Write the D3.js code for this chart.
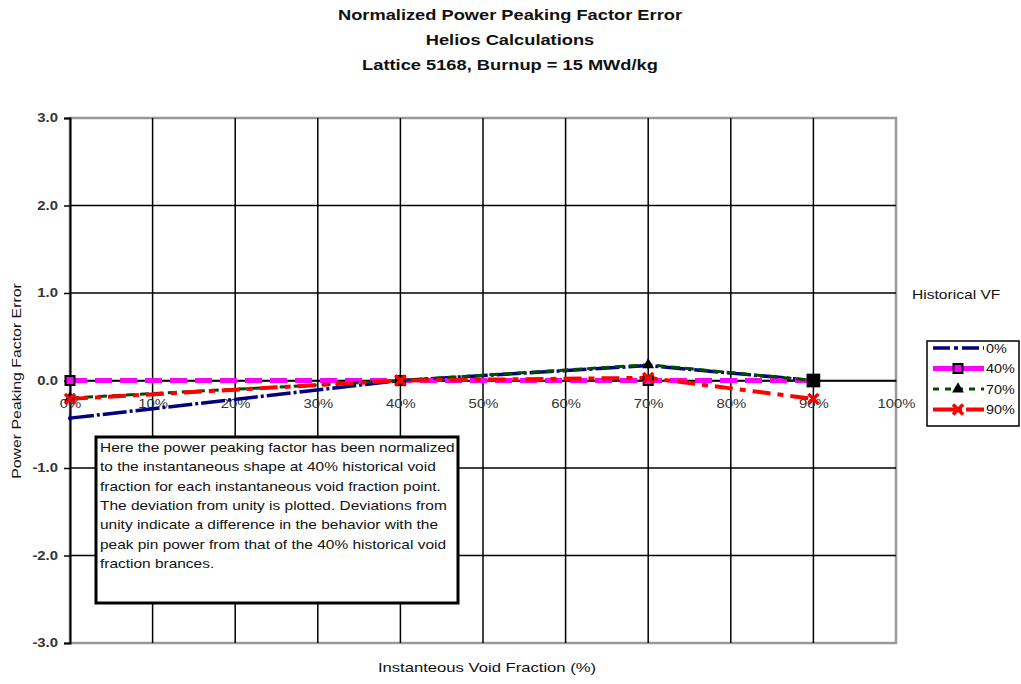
<!DOCTYPE html>
<html><head><meta charset="utf-8">
<script src="https://cdn.jsdelivr.net/npm/d3@7"></script>
<style>body{margin:0;background:#fff;}svg{display:block;font-family:"Liberation Sans",Arial,sans-serif;}</style>
</head><body>
<svg id="c" width="1021" height="684"></svg>
<script>
// ---- data ----
const xValues = [0, 40, 70, 90];              // instantaneous void fraction (%)
const seriesNames = ["0%", "40%", "70%", "90%"]; // historical VF
const vf0 = [-0.43, 0.0, 0.17, 0.0];
const vf40 = [0.0, 0.0, 0.0, 0.0];
const vf70 = [-0.2, 0.0, 0.18, 0.0];
const vf90 = [-0.21, 0.0, 0.03, -0.21];
const xTicks = [0,10,20,30,40,50,60,70,80,90,100];
const yTicks = [-3,-2,-1,0,1,2,3];
const titleLines = ["Normalized Power Peaking Factor Error","Helios Calculations","Lattice 5168, Burnup = 15 MWd/kg"];
const noteLines = ["Here the power peaking factor has been normalized",
 "to the instantaneous shape at 40% historical void",
 "fraction for each instantaneous void fraction point.",
 "The deviation from unity is plotted. Deviations from",
 "unity indicate a difference in the behavior with the",
 "peak pin power from that of the 40% historical void",
 "fraction brances."];

const svg = d3.select("#c");
const x = d3.scaleLinear().domain([0,100]).range([70,896]);
const y = d3.scaleLinear().domain([-3,3]).range([643,118]);
const SX = 1.24; // horizontal stretch of the reference's glyphs

function stext(g, tx, ty, str, o){
  o = o||{};
  const sx = o.sx||SX;
  const rot = o.rotate ? ` rotate(${o.rotate})` : "";
  return g.append("text").attr("transform",`translate(${tx},${ty})${rot} scale(${sx},1)`)
    .attr("text-anchor",o.anchor||"start").attr("font-size",o.size||12)
    .attr("font-weight",o.weight||"normal").attr("fill",o.fill||"#111").text(str);
}

// title
titleLines.forEach((t,i)=>stext(svg, 510, 20+i*25, t, {anchor:"middle", size:14.5, weight:"bold", sx:1.26}));

// plot border (gray)
svg.append("rect").attr("x",x(0)).attr("y",y(3)).attr("width",x(100)-x(0)).attr("height",y(-3)-y(3))
  .attr("fill","none").attr("stroke","#999").attr("stroke-width",2.5);

// grid
svg.append("g").selectAll("line").data(xTicks.filter(d=>d>0&&d<100)).join("line")
  .attr("x1",d=>x(d)).attr("x2",d=>x(d)).attr("y1",y(3)).attr("y2",y(-3))
  .attr("stroke","#000").attr("stroke-width",1.5);
svg.append("g").selectAll("line").data(yTicks.filter(d=>d>-3&&d<3)).join("line")
  .attr("x1",x(0)).attr("x2",x(100)).attr("y1",d=>y(d)).attr("y2",d=>y(d))
  .attr("stroke","#000").attr("stroke-width",1.5);

// y axis
const yAxis = d3.axisLeft(y).tickValues(yTicks).tickSize(6).tickFormat(d=>d.toFixed(1));
const gy = svg.append("g").attr("transform",`translate(${x(0)},0)`).call(yAxis);
gy.select(".domain").attr("stroke","#000").attr("stroke-width",2);
gy.selectAll(".tick line").attr("stroke","#000").attr("stroke-width",1.5);
gy.selectAll(".tick text").attr("font-size",12).attr("font-family","Liberation Sans, Arial, sans-serif")
  .attr("font-weight","bold").attr("fill","#333").attr("x",-12/SX).attr("transform",`scale(${SX},1)`);

// x axis at zero
const xAxis = d3.axisBottom(x).tickValues(xTicks).tickSize(0).tickFormat(d=>d+"%");
const gx = svg.append("g").attr("transform",`translate(0,${y(0)})`).call(xAxis);
gx.select(".domain").attr("stroke","#000").attr("stroke-width",1.5);
gx.selectAll(".tick text").attr("font-size",12).attr("font-family","Liberation Sans, Arial, sans-serif")
  .attr("fill","#333").attr("dy","2.05em").attr("transform",`scale(${SX},1)`);

// axis titles
stext(svg, 21, 381, "Power Peaking Factor Error", {anchor:"middle", size:13, rotate:-90, sx:1.22});
stext(svg, 487, 672, "Instanteous Void Fraction (%)", {anchor:"middle", size:13, sx:1.28});

// series
const series = [
  {name:seriesNames[0], vals:vf0, color:"#000080", width:3.5, dash:"24,3,3,3", marker:"diamond"},
  {name:seriesNames[1], vals:vf40, color:"#ff00ff", width:5, dash:"17,8", marker:"square"},
  {name:seriesNames[2], vals:vf70, color:"#004d00", width:3, dash:"9,5", marker:"triangle"},
  {name:seriesNames[3], vals:vf90, color:"#ff0000", width:4, dash:"18,7,6,7", marker:"x"}
];
const line = d3.line().x(d=>x(d[0])).y(d=>y(d[1]));

function drawMarker(g, type, cx, cy, color, scale, fillOverride){
  const s = scale||1;
  if(type==="diamond"){
    g.append("path").attr("d",d3.symbol(d3.symbolDiamond, 18*s)())
      .attr("transform",`translate(${cx},${cy})`).attr("fill",color);
  } else if(type==="square"){
    g.append("rect").attr("x",cx-4.5*s).attr("y",cy-4.5*s).attr("width",9*s).attr("height",9*s)
      .attr("fill",fillOverride||color).attr("stroke","#000").attr("stroke-width",2);
  } else if(type==="triangle"){
    g.append("path").attr("d",d3.symbol(d3.symbolTriangle, 60*s)())
      .attr("transform",`translate(${cx},${cy})`).attr("fill","#000");
  } else if(type==="x"){
    const r=5*s;
    g.append("path").attr("d",`M${cx-r},${cy-r}L${cx+r},${cy+r}M${cx-r},${cy+r}L${cx+r},${cy-r}`)
      .attr("stroke",color).attr("stroke-width",3.5).attr("fill","none");
  }
}

const gs = svg.append("g");
series.forEach(s=>{
  const pts = xValues.map((v,i)=>[v,s.vals[i]]);
  gs.append("path").attr("d",line(pts)).attr("fill","none").attr("stroke",s.color)
    .attr("stroke-width",s.width).attr("stroke-dasharray",s.dash);
});
series.forEach(s=>{
  xValues.forEach((v,i)=>{
    const last = s.marker==="square" && i===xValues.length-1;
    drawMarker(gs, s.marker, x(v), y(s.vals[i]), s.color, last?1.3:1, last?"#000":null);
  });
});

// legend
stext(svg, 912, 299, "Historical VF", {size:12, sx:1.3});
const lg = svg.append("g");
lg.append("rect").attr("x",927).attr("y",341).attr("width",92).attr("height",85)
  .attr("fill","#fff").attr("stroke","#000").attr("stroke-width",1.5);
const legendDash = ["17,4,4,4", null, "6,6", "22,4,3,4"];
series.forEach((s,i)=>{
  const ly = 348 + i*20.5;
  lg.append("line").attr("x1",933).attr("x2",984).attr("y1",ly).attr("y2",ly)
    .attr("stroke",s.color).attr("stroke-width",s.width)
    .attr("stroke-dasharray", legendDash[i]);
  drawMarker(lg, s.marker==="diamond"?"none":s.marker, 958, ly, s.color, 1);
  stext(lg, 986, ly+4.5, s.name, {size:12, sx:1.2});
});

// note box
const nb = svg.append("g");
nb.append("rect").attr("x",96).attr("y",437).attr("width",362).attr("height",166)
  .attr("fill","#fff").attr("stroke","#000").attr("stroke-width",3);
noteLines.forEach((t,i)=>stext(nb, 100, 452+i*19.3, t, {size:13, sx:1.19}));
</script>
</body></html>
